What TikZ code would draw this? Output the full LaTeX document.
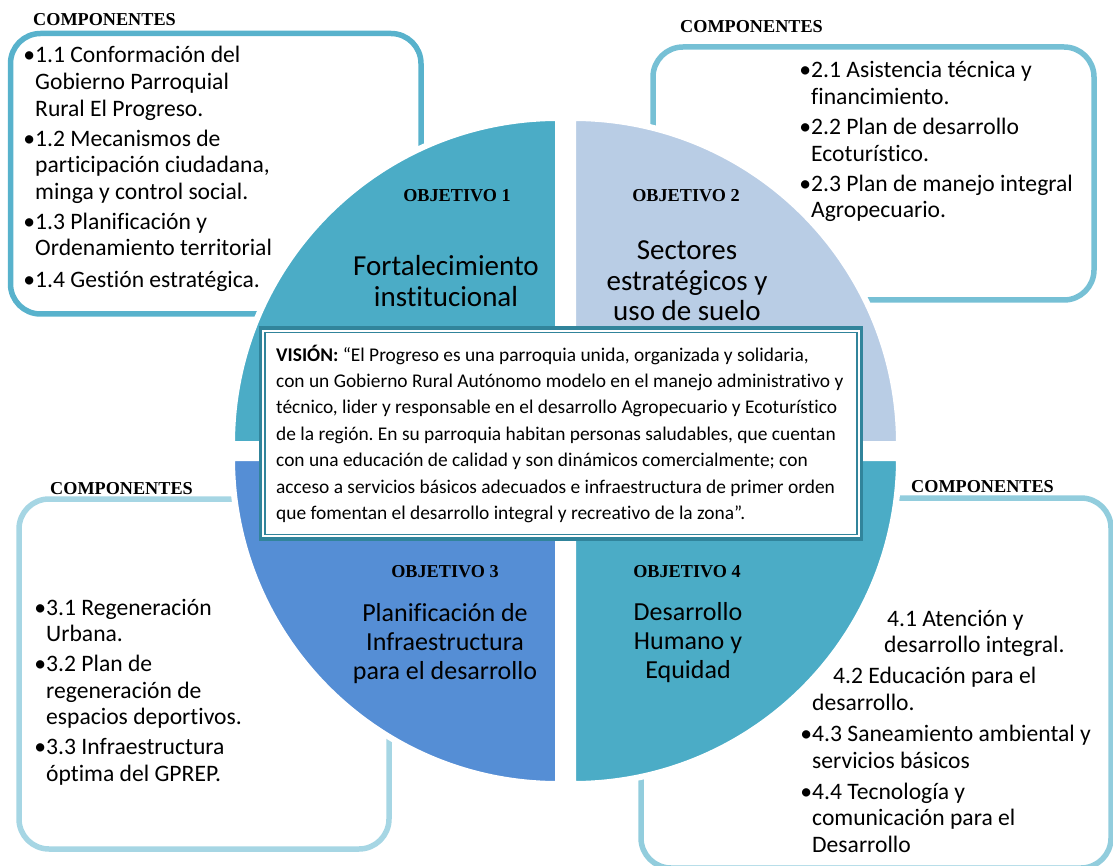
\documentclass[tikz,border=0pt]{standalone}
\usepackage{fontspec}
\setmainfont{Carlito}[Ligatures=NoCommon]
\newfontfamily\tnr{Liberation Serif}
\frenchspacing
\definecolor{qteal}{RGB}{75,172,198}
\definecolor{qlight}{RGB}{185,205,229}
\definecolor{qblue}{RGB}{85,142,213}
\definecolor{bone}{RGB}{88,178,204}
\definecolor{btwo}{RGB}{118,192,213}
\definecolor{bthree}{RGB}{166,214,228}
\definecolor{bfour}{RGB}{146,205,221}
\definecolor{visc}{RGB}{49,132,155}
\tikzset{
  compbox/.style={rounded corners=30pt, line width=5.5pt},
  quad/.style={draw=white, line width=6pt},
  comptitle/.style={font=\tnr\bfseries\fontsize{18.2}{20}\selectfont, anchor=base west, inner sep=0pt},
  objtitle/.style={font=\tnr\bfseries\fontsize{18.2}{20}\selectfont, anchor=base, inner sep=0pt},
  complist/.style={font=\fontsize{23.6}{26.6}\selectfont, anchor=base west, inner sep=0pt},
  bigtitle/.style={font=\fontsize{29}{30.5}\selectfont, anchor=base, inner sep=0pt},
  midtitle/.style={font=\fontsize{26}{29}\selectfont, anchor=base, inner sep=0pt},
  vistext/.style={font=\fontsize{19.4}{26.4}\selectfont, anchor=base west, inner sep=0pt},
}
\newcommand\lst[1]{\begin{tabular}[t]{@{}l@{}}#1\end{tabular}}
\newcommand\ctr[1]{\begin{tabular}[t]{@{}c@{}}#1\end{tabular}}
\begin{document}
\frenchspacing
\begin{tikzpicture}[x=1pt,y=1pt,yscale=-1]
\useasboundingbox (0,0) rectangle (1113,866);
% component boxes
\draw[compbox, draw=bone]   (10.5,33.5) rectangle (421,314);
\draw[compbox, draw=btwo]   (653,47) rectangle (1094,300);
\draw[compbox, draw=bthree] (19,499) rectangle (389,849);
\draw[compbox, draw=bfour]  (641,498) rectangle (1111,868);
% quadrants
\path[quad, fill=qteal]  (558,444) -- (232,444) arc[start angle=180, end angle=270, radius=326] -- cycle;
\path[quad, fill=qlight] (573,444) -- (573,118) arc[start angle=270, end angle=360, radius=326] -- cycle;
\path[quad, fill=qblue]  (558,458) -- (558,784) arc[start angle=90, end angle=180, radius=326] -- cycle;
\path[quad, fill=qteal]  (573,458) -- (899,458) arc[start angle=0, end angle=90, radius=326] -- cycle;
% objective labels
\node[objtitle] (o1) at (457,202) {OBJETIVO 1};
\node[objtitle] (o2) at (686,202) {OBJETIVO 2};
\node[objtitle] (o3) at (445,577) {OBJETIVO 3};
\node[objtitle] (o4) at (687,577) {OBJETIVO 4};
\node[bigtitle] (t1) at (446,276) {\ctr{Fortalecimiento\\institucional}};
\node[bigtitle] (t2) at (687,260) {\ctr{Sectores\\estratégicos y\\uso de suelo}};
\node[midtitle] (t3) at (445,621) {\ctr{Planificación de\\Infraestructura\\para el desarrollo}};
\node[midtitle] (t4) at (688,620) {\ctr{Desarrollo\\Humano y\\Equidad}};
% vision box
\path[draw=visc, line width=3.2pt, fill=white] (260.5,328) rectangle (861.5,539);
\draw[visc, line width=1.4pt] (265,332.5) rectangle (857,534.5);
\node[vistext] (vis) at (276,361) {\lst{\textbf{VISIÓN:} “El Progreso es una parroquia unida, organizada y solidaria,\\
con un Gobierno Rural Autónomo modelo en el manejo administrativo y\\
técnico, lider y responsable en el desarrollo Agropecuario y Ecoturístico\\
de la región. En su parroquia habitan personas saludables, que cuentan\\
con una educación de calidad y son dinámicos comercialmente; con\\
acceso a servicios básicos adecuados e infraestructura de primer orden\\
que fomentan el desarrollo integral y recreativo de la zona”.}};
% component titles
\node[comptitle] (h1) at (33,26) {COMPONENTES};
\node[comptitle] (h2) at (680,33) {COMPONENTES};
\node[comptitle] (h3) at (50,494) {COMPONENTES};
\node[comptitle] (h4) at (911,492) {COMPONENTES};
% component lists
\node[complist] (l1) at (35,63) {\lst{\llap{•}1.1 Conformación del\\ Gobierno Parroquial\\ Rural El Progreso.\\[3.4pt]
\llap{•}1.2 Mecanismos de\\ participación ciudadana,\\ minga y control social.\\[3.4pt]
\llap{•}1.3 Planificación y\\ Ordenamiento territorial\\[5pt]
\llap{•}1.4 Gestión estratégica.}};
\node[complist] (l2) at (811,78) {\lst{\llap{•}2.1 Asistencia técnica y\\ financimiento.\\[3.4pt]
\llap{•}2.2 Plan de desarrollo\\ Ecoturístico.\\[3.4pt]
\llap{•}2.3 Plan de manejo integral\\ Agropecuario.}};
\node[complist] (l3) at (46,615) {\lst{\llap{•}3.1 Regeneración\\ Urbana.\\[3.4pt]
\llap{•}3.2 Plan de\\ regeneración de\\ espacios deportivos.\\[3.4pt]
\llap{•}3.3 Infraestructura\\ óptima del GPREP.}};
\node[complist] (l4) at (812,626) {\lst{\hspace*{75pt}4.1 Atención y\\ \hspace*{72pt}desarrollo integral.\\[4.5pt]
\hspace*{21pt}4.2 Educación para el\\ desarrollo.\\[4.5pt]
\llap{•}4.3 Saneamiento ambiental y\\ servicios básicos\\[4.5pt]
\llap{•}4.4 Tecnología y\\ comunicación para el\\ Desarrollo}};
\end{tikzpicture}
\end{document}
